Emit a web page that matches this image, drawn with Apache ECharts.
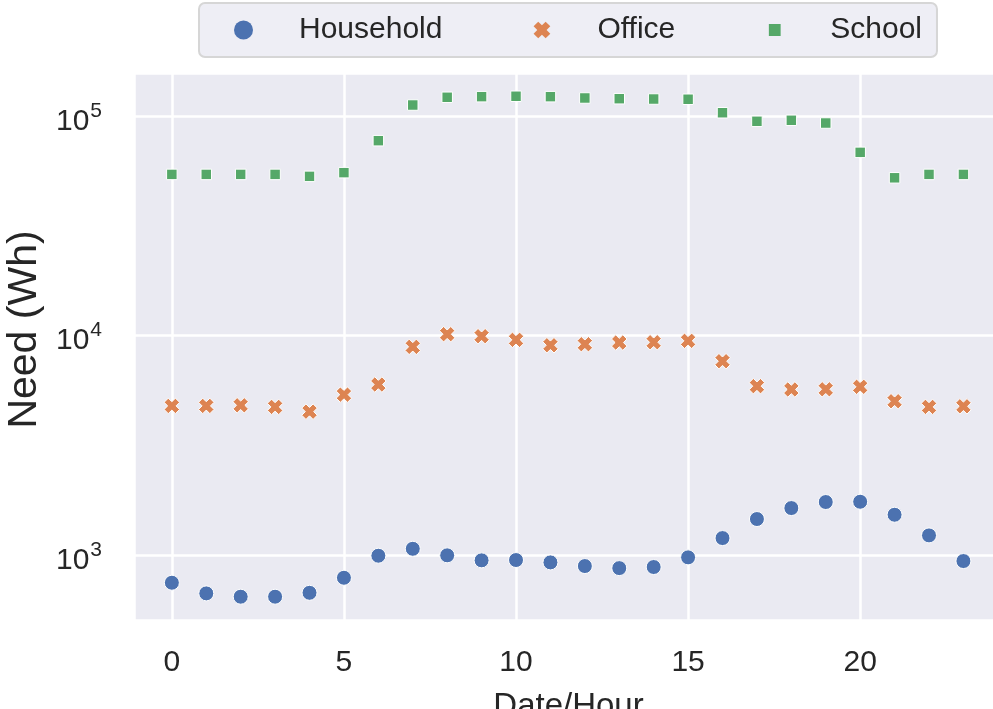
<!DOCTYPE html>
<html>
<head>
<meta charset="utf-8">
<script src="https://cdn.jsdelivr.net/npm/echarts@6/dist/echarts.min.js"></script>
<style>html,body{margin:0;padding:0;background:#fff;}#c{width:993px;height:709px;}</style>
</head>
<body>
<div id="c"></div>
<script>
const hours = [0,1,2,3,4,5,6,7,8,9,10,11,12,13,14,15,16,17,18,19,20,21,22,23];
const household = [748,669,646,646,673,788,993,1068,997,946,949,926,891,872,882,976,1195,1459,1637,1744,1749,1526,1229,939];
const office = [4780,4780,4810,4730,4500,5380,5980,8880,10140,9930,9560,9030,9130,9290,9320,9460,7640,5880,5680,5690,5840,5020,4730,4760];
const school = [54200,54200,54200,54200,53100,55200,77200,112200,121700,122500,123000,122500,120800,119900,119500,119200,103500,94600,95600,92900,68300,52300,54200,54200];
const seriesNames = ['Household','Office','School'];
const xTickLabels = [0,5,10,15,20];
const yTickExps = [3,4,5];

const FONT = '"Liberation Sans", Arial, sans-serif';
const xPath = 'path://M2.7,0L5,2.3L7.3,0L10,2.7L7.7,5L10,7.3L7.3,10L5,7.7L2.7,10L0,7.3L2.3,5L0,2.7Z';
const sqLegend = 'path://M0,0L0.05,0L0,0.05Z M3.8,3.8L16.2,3.8L16.2,16.2L3.8,16.2Z M20,20L19.95,20L20,19.95Z';
const xLegend = 'path://M0,0L0.05,0L0,0.05Z M6.1,1.2L10,5.1L13.9,1.2L18.8,6.1L14.9,10L18.8,13.9L13.9,18.8L10,14.9L6.1,18.8L1.2,13.9L5.1,10L1.2,6.1Z M20,20L19.95,20L20,19.95Z';

function pairs(ys){ return hours.map((h,i)=>[h, ys[i]]); }

const chart = echarts.init(document.getElementById('c'), null, {renderer:'canvas'});
chart.setOption({
  backgroundColor:'#ffffff',
  animation:false,
  textStyle:{fontFamily:FONT},
  grid:{left:134, top:73, width:869, height:547, show:true, backgroundColor:'#eaeaf2', borderWidth:0, containLabel:false, outerBoundsMode:'none'},
  legend:{
    left:199, top:3,
    orient:'horizontal',
    padding:[12,15,12,35],
    itemWidth:19, itemHeight:19,
    itemGap:90,
    backgroundColor:'#eeeef5',
    borderColor:'#d6d6d6', borderWidth:2, borderRadius:6,
    textStyle:{fontFamily:FONT, fontSize:30, color:'#262626', padding:[0,0,0,41]},
    itemStyle:{borderWidth:0},
    data:[
      {name:seriesNames[0], icon:'circle'},
      {name:seriesNames[1], icon:xLegend},
      {name:seriesNames[2], icon:sqLegend}
    ]
  },
  xAxis:{
    type:'value', min:-1.1, max:24.15, splitNumber:5,
    name:'Date/Hour', nameLocation:'middle', nameGap:70,
    nameTextStyle:{fontFamily:FONT, fontSize:33, color:'#262626'},
    axisLine:{show:false}, axisTick:{show:false},
    axisLabel:{fontFamily:FONT, fontSize:30, color:'#262626', margin:28,
      formatter:function(v){ const r=Math.round(v); return (Math.abs(v-r)<1e-9 && xTickLabels.indexOf(r)>=0) ? String(r) : ''; }},
    splitLine:{show:true, lineStyle:{color:'#ffffff', width:2.5}}
  },
  yAxis:{
    type:'log', logBase:10, min:506, max:157000,
    name:'Need (Wh)', nameLocation:'middle', nameGap:88, nameRotate:90,
    nameTextStyle:{fontFamily:FONT, fontSize:41, color:'#262626', padding:[0,0,0,34]},
    axisLine:{show:false}, axisTick:{show:false},
    axisLabel:{margin:32, color:'#262626',
      formatter:function(v){ const e=Math.log10(v); const r=Math.round(e); if (Math.abs(e-r)<1e-6 && yTickExps.indexOf(r)>=0) return '{b|10}{s|'+r+'}'; return ''; },
      rich:{
        b:{fontFamily:FONT, fontSize:30, color:'#262626', padding:[11,0,0,0]},
        s:{fontFamily:FONT, fontSize:21, color:'#262626', padding:[0,0,10,1]}
      }},
    splitLine:{show:true, lineStyle:{color:'#ffffff', width:2.5}},
    minorSplitLine:{show:false}
  },
  series:[
    {name:seriesNames[0], type:'scatter', data:pairs(household), symbol:'circle', symbolSize:15,
      itemStyle:{color:'#4c72b0', borderColor:'#ffffff', borderWidth:1, opacity:1}},
    {name:seriesNames[1], type:'scatter', data:pairs(office), symbol:xPath, symbolSize:15.5,
      itemStyle:{color:'#dd8452', borderColor:'#ffffff', borderWidth:1, opacity:1}},
    {name:seriesNames[2], type:'scatter', data:pairs(school), symbol:'rect', symbolSize:10.5,
      itemStyle:{color:'#55a868', borderColor:'#ffffff', borderWidth:1, opacity:1}}
  ]
});
</script>
</body>
</html>
